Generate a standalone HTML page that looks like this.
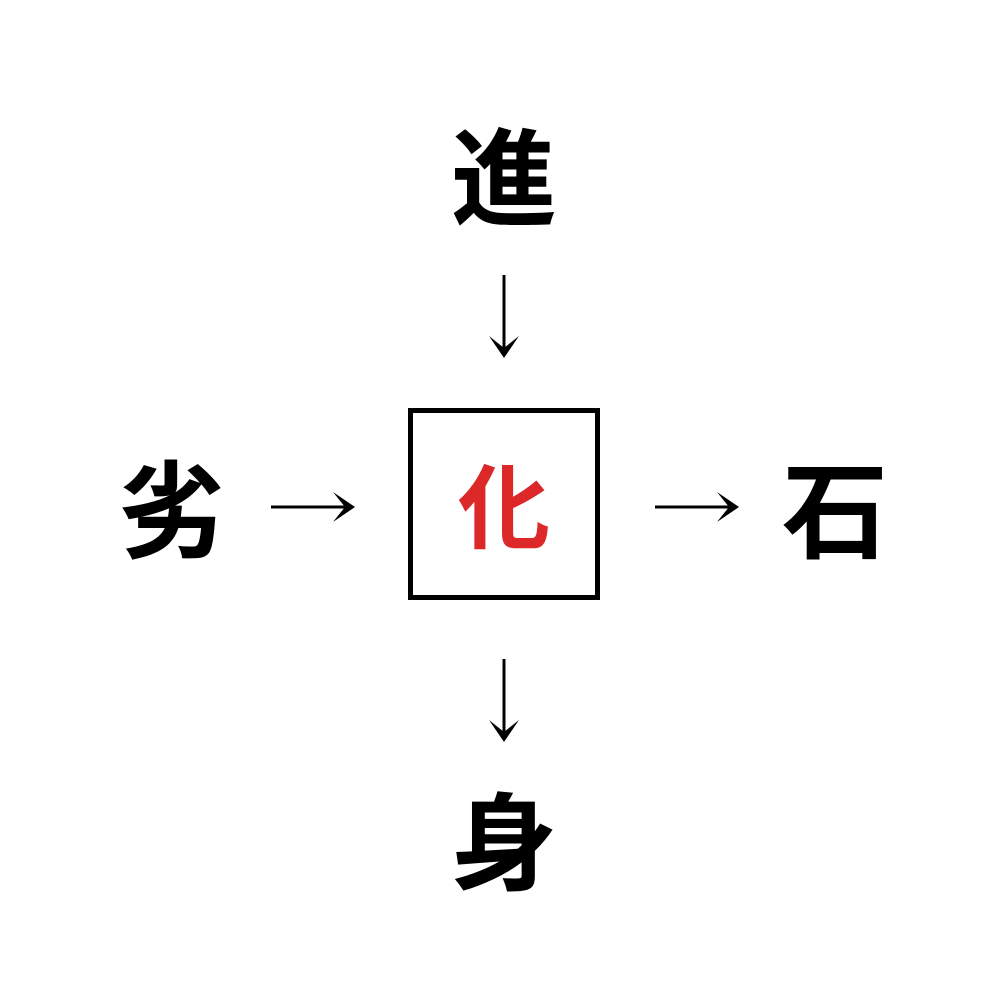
<!DOCTYPE html>
<html><head><meta charset="utf-8"><style>
html,body{margin:0;padding:0;background:#fff;}
svg{display:block}
</style></head><body>
<svg width="1008" height="1008" viewBox="0 0 1008 1008" xmlns="http://www.w3.org/2000/svg">
<defs>
<path id="ah" d="M-15,-20 L0,2 L15,-20 L0,-8 Z" fill="#000"/>
</defs>
<g font-family="'Noto Sans CJK JP','Noto Sans CJK SC',sans-serif" text-anchor="middle">
<text x="504" y="217" font-size="106" font-weight="bold" fill="#000">進</text>
<text x="171" y="550" font-size="106" font-weight="bold" fill="#000">劣</text>
<text x="835" y="550" font-size="106" font-weight="bold" fill="#000">石</text>
<text x="504" y="882" font-size="106" font-weight="bold" fill="#000">身</text>
<text x="504" y="541" font-size="92" font-weight="bold" fill="#dc2828">化</text>
</g>
<rect x="410.5" y="410.5" width="187" height="187" fill="none" stroke="#000" stroke-width="5"/>
<g stroke="#000" stroke-width="3">
<line x1="504" y1="275" x2="504" y2="350"/>
<line x1="504" y1="659" x2="504" y2="734"/>
<line x1="271" y1="507" x2="347" y2="507"/>
<line x1="655" y1="507" x2="731" y2="507"/>
</g>
<use href="#ah" transform="translate(504,356)"/>
<use href="#ah" transform="translate(504,740)"/>
<use href="#ah" transform="translate(353,507) rotate(-90)"/>
<use href="#ah" transform="translate(737,507) rotate(-90)"/>
</svg>
</body></html>
